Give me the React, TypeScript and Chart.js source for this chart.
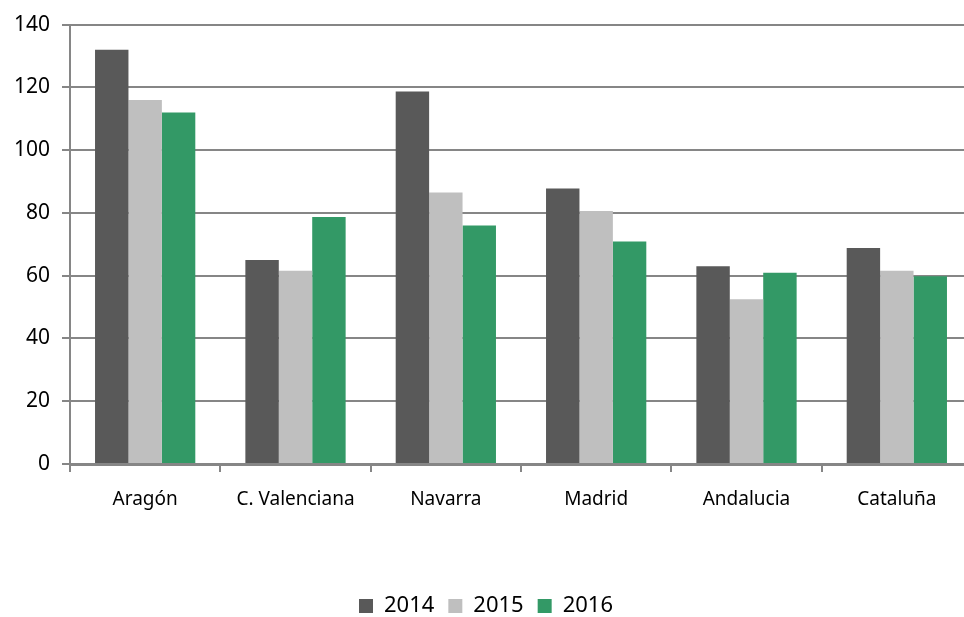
import React, { useEffect, useRef } from "react";
import { Chart, registerables } from "chart.js";

Chart.register(...registerables);

const categories = ["Aragón", "C. Valenciana", "Navarra", "Madrid", "Andalucia", "Cataluña"];
const seriesLabels = ["2014", "2015", "2016"];
const values2014 = [132, 65, 118.7, 87.8, 63, 68.8];
const values2015 = [116, 61.6, 86.5, 80.6, 52.5, 61.6];
const values2016 = [112, 78.7, 76, 70.9, 60.9, 59.8];
const seriesColors = ["#595959", "#bfbfbf", "#339966"];
const yMin = 0;
const yMax = 140;
const yStep = 20;

export default function App() {
  const ref = useRef<HTMLCanvasElement | null>(null);

  useEffect(() => {
    document.body.style.margin = "0";
    document.body.style.overflow = "hidden";
    document.documentElement.style.overflow = "hidden";
    const canvas = ref.current;
    if (!canvas) return;
    const gridColor = "#868686";
    const chart = new Chart(canvas, {
      type: "bar",
      data: {
        labels: categories,
        datasets: [values2014, values2015, values2016].map((d, i) => ({
          label: seriesLabels[i],
          data: d,
          backgroundColor: seriesColors[i],
          borderWidth: 0,
          categoryPercentage: 0.667,
          barPercentage: 1.0,
        })),
      },
      options: {
        responsive: false,
        animation: false,
        layout: { padding: { top: 24, right: 28, left: 0, bottom: 0 } },
        plugins: {
          tooltip: { enabled: false },
          legend: {
            position: "bottom",
            labels: {
              boxWidth: 14,
              boxHeight: 14,
              padding: 14,
              color: "#000",
              font: { family: "'Noto Sans'", size: 22 },
            },
          },
        },
        scales: {
          x: {
            offset: true,
            afterFit: (scale: any) => {
              scale.height = 117;
            },
            grid: {
              display: true,
              offset: true,
              drawOnChartArea: false,
              drawTicks: true,
              tickLength: 8,
              color: gridColor,
              lineWidth: 2,
            },
            border: { display: true, color: gridColor, width: 3 },
            ticks: {
              color: "#000",
              padding: 16,
              font: { family: "'Noto Sans'", size: 19 },
              maxRotation: 0,
            },
          },
          y: {
            min: yMin,
            max: yMax,
            afterFit: (scale: any) => {
              scale.width = 70;
            },
            grid: {
              color: gridColor,
              lineWidth: 2,
              tickLength: 8,
              drawTicks: true,
            },
            border: { display: true, color: gridColor, width: 2 },
            ticks: {
              stepSize: yStep,
              color: "#000",
              padding: 12,
              font: { family: "'Noto Sans'", size: 21 },
            },
          },
        },
      },
    });
    return () => chart.destroy();
  }, []);

  return (
    <div style={{ position: "absolute", left: 0, top: 0, width: 1000, height: 627 }}>
      <canvas ref={ref} width={1000} height={627} style={{ width: 1000, height: 627, display: "block" }} />
    </div>
  );
}
